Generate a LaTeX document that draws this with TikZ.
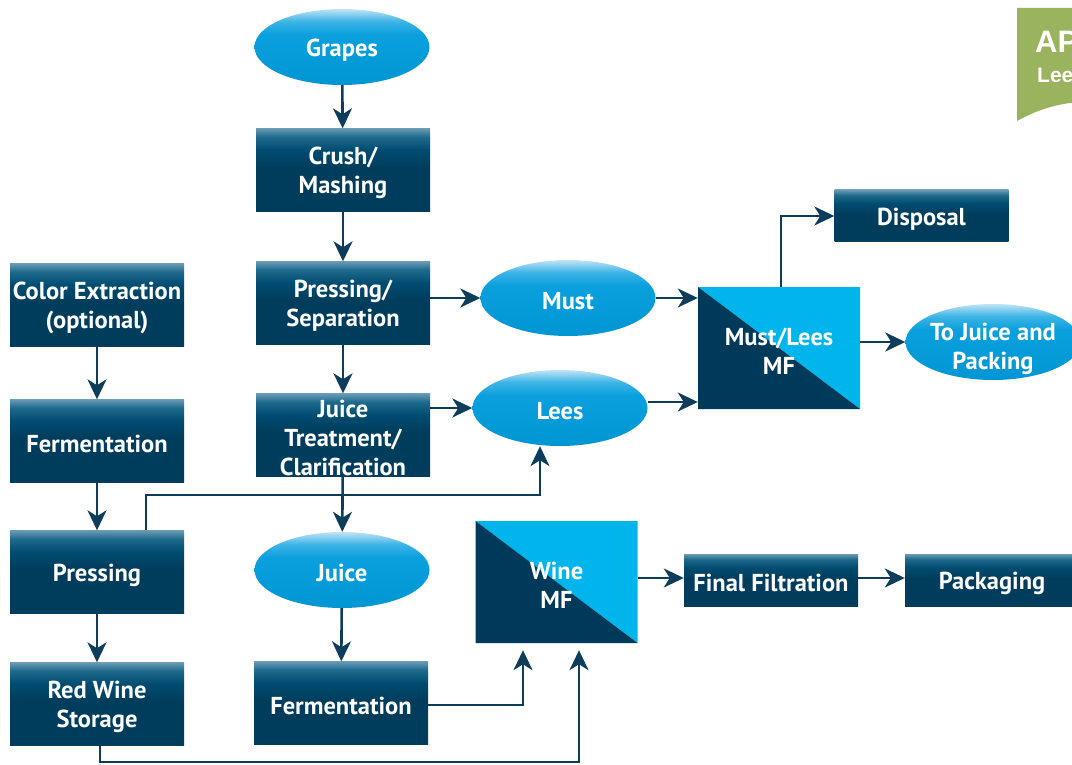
\documentclass[tikz,border=0pt]{standalone}
\usepackage{fontspec}
\setmainfont{PT Sans}
\newfontfamily\panelfont{Liberation Sans}
\usetikzlibrary{shapes.geometric,arrows.meta,calc}
\definecolor{boxtop}{HTML}{6A9AB4}
\definecolor{boxmidA}{HTML}{1E6A8C}
\definecolor{boxmidB}{HTML}{004C70}
\definecolor{boxdark}{HTML}{003D5D}
\definecolor{elltop}{HTML}{C0E4F6}
\definecolor{ellmidA}{HTML}{3DB4E6}
\definecolor{ellmid}{HTML}{0A9FDD}
\definecolor{ellbot}{HTML}{0095D3}
\definecolor{mflight}{HTML}{00B4EC}
\definecolor{mfdark}{HTML}{003A5A}
\definecolor{arrcol}{HTML}{0E3D5C}
\definecolor{panelgreen}{HTML}{9AB35E}
\pgfdeclareverticalshading{boxshade}{100bp}{color(0bp)=(boxdark); color(25bp)=(boxdark); color(52bp)=(boxdark); color(62bp)=(boxmidB); color(70bp)=(boxmidA); color(75bp)=(boxtop); color(100bp)=(boxtop)}
\pgfdeclareverticalshading{ellshade}{100bp}{color(0bp)=(ellbot); color(25bp)=(ellbot); color(58bp)=(ellmid); color(67bp)=(ellmidA); color(75bp)=(elltop); color(100bp)=(elltop)}
\tikzset{
  txt/.style={text=white, align=center, font=\fontsize{24.5}{29}\selectfont\bfseries, inner sep=0pt},
  t/.style={label={[txt,yshift=-3pt]center:{#1}}},
  tt/.style={label={[txt,yshift=-7pt]center:{#1}}},
  pbox/.style={rectangle, inner sep=0pt, minimum width=174pt, minimum height=83pt, shading=boxshade},
  sbox/.style={pbox, minimum height=52pt},
  ell/.style={ellipse, inner sep=0pt, minimum width=175pt, minimum height=76pt, shading=ellshade},
  mfbox/.style={rectangle, inner sep=0pt, minimum width=162pt, minimum height=122pt,
    path picture={
      \fill[mflight] (path picture bounding box.north west) -- (path picture bounding box.north east) -- (path picture bounding box.south east) -- cycle;
      \fill[mfdark] (path picture bounding box.north west) -- (path picture bounding box.south east) -- (path picture bounding box.south west) -- cycle;
    }},
  arr/.style={draw=arrcol, line width=2.6pt, -{Stealth[length=20pt,width=19pt,inset=6pt]}}
}
\begin{document}
\begin{tikzpicture}[x=1pt,y=-1pt]
\useasboundingbox (0,0) rectangle (1072,765);
\clip (0,0) rectangle (1072,765);
% green panel
\fill[panelgreen] (1017,8) -- (1080,8) -- (1080,102) .. controls (1050,104) and (1030,114) .. (1017,121) -- cycle;
\node[anchor=base west, text=white, font=\panelfont\fontsize{31}{31}\selectfont\bfseries, inner sep=0pt] (ap) at (1035,53) {AP};
\node[anchor=base west, text=white, font=\panelfont\fontsize{21}{21}\selectfont\bfseries, inner sep=0pt] (lee) at (1037,83) {Lee};
% center column
\node[ell, t={Grapes}] (grapes) at (342,47) {};
\node[pbox, t={Crush/\\Mashing}] (crush) at (343,170) {};
\node[pbox, t={Pressing/\\Separation}] (press) at (343,303) {};
\node[pbox, t={Juice\\Treatment/\\Clarification}] (jt) at (343,435) {};
\node[ell, t={Juice}] (juice) at (342,570) {};
\node[pbox, t={Fermentation}] (ferm2) at (341,703) {};
% left column
\node[pbox, t={Color Extraction\\(optional)}] (color) at (97,305) {};
\node[pbox, t={Fermentation}] (ferm1) at (97,441) {};
\node[pbox, t={Pressing}] (pressl) at (97,572) {};
\node[pbox, t={Red Wine\\Storage}] (rws) at (97,704) {};
% right part
\node[ell, t={Must}] (must) at (568,298) {};
\node[ell, t={Lees}] (lees) at (560,408) {};
\node[mfbox, t={Must/Lees\\MF}] (mf) at (779,348) {};
\node[sbox, t={Disposal}] (disp) at (921.5,216) {};
\node[ell, tt={To Juice and\\Packing}] (tojuice) at (993,342) {};
\node[mfbox, t={Wine\\MF}] (wmf) at (556.5,582) {};
\node[sbox, t={Final Filtration}] (final) at (771,580) {};
\node[sbox, t={Packaging}] (pack) at (992,580) {};
% arrows
\draw[arr] (grapes) -- (crush);
\draw[arr] (crush) -- (press);
\draw[arr] (press) -- (jt);
\draw[arr] (jt) -- (juice);
\draw[arr] (juice) -- (ferm2);
\draw[arr] (color) -- (ferm1);
\draw[arr] (ferm1) -- (pressl);
\draw[arr] (pressl) -- (rws);
\draw[arr] (must.west -| press.east) -- (must.west);
\draw[arr] (jt.east |- lees.west) -- (lees.west);
\draw[arr] (must.east) -- (must.east -| mf.west);
\draw[arr] ([yshift=6pt]lees.east) -- ([yshift=6pt]lees.east -| mf.west);
\draw[arr] ([xshift=2pt]mf.north) |- (disp.west);
\draw[arr] (tojuice.west -| mf.east) -- (tojuice.west);
\draw[arr] ([yshift=2pt]final.west -| wmf.east) -- ([yshift=2pt]final.west);
\draw[arr] ([yshift=2pt]final.east) -- ([yshift=2pt]pack.west);
\draw[arr] ([xshift=49pt]pressl.north) |- (495,495) -| ([xshift=-20pt]lees.south);
\draw[arr] ([yshift=-2pt]ferm2.east) -| ([xshift=-33.5pt,yshift=-7pt]wmf.south);
\draw[arr] ([xshift=3pt]rws.south) |- (300,762) -| ([xshift=22.5pt,yshift=-7pt]wmf.south);
\end{tikzpicture}
\end{document}
